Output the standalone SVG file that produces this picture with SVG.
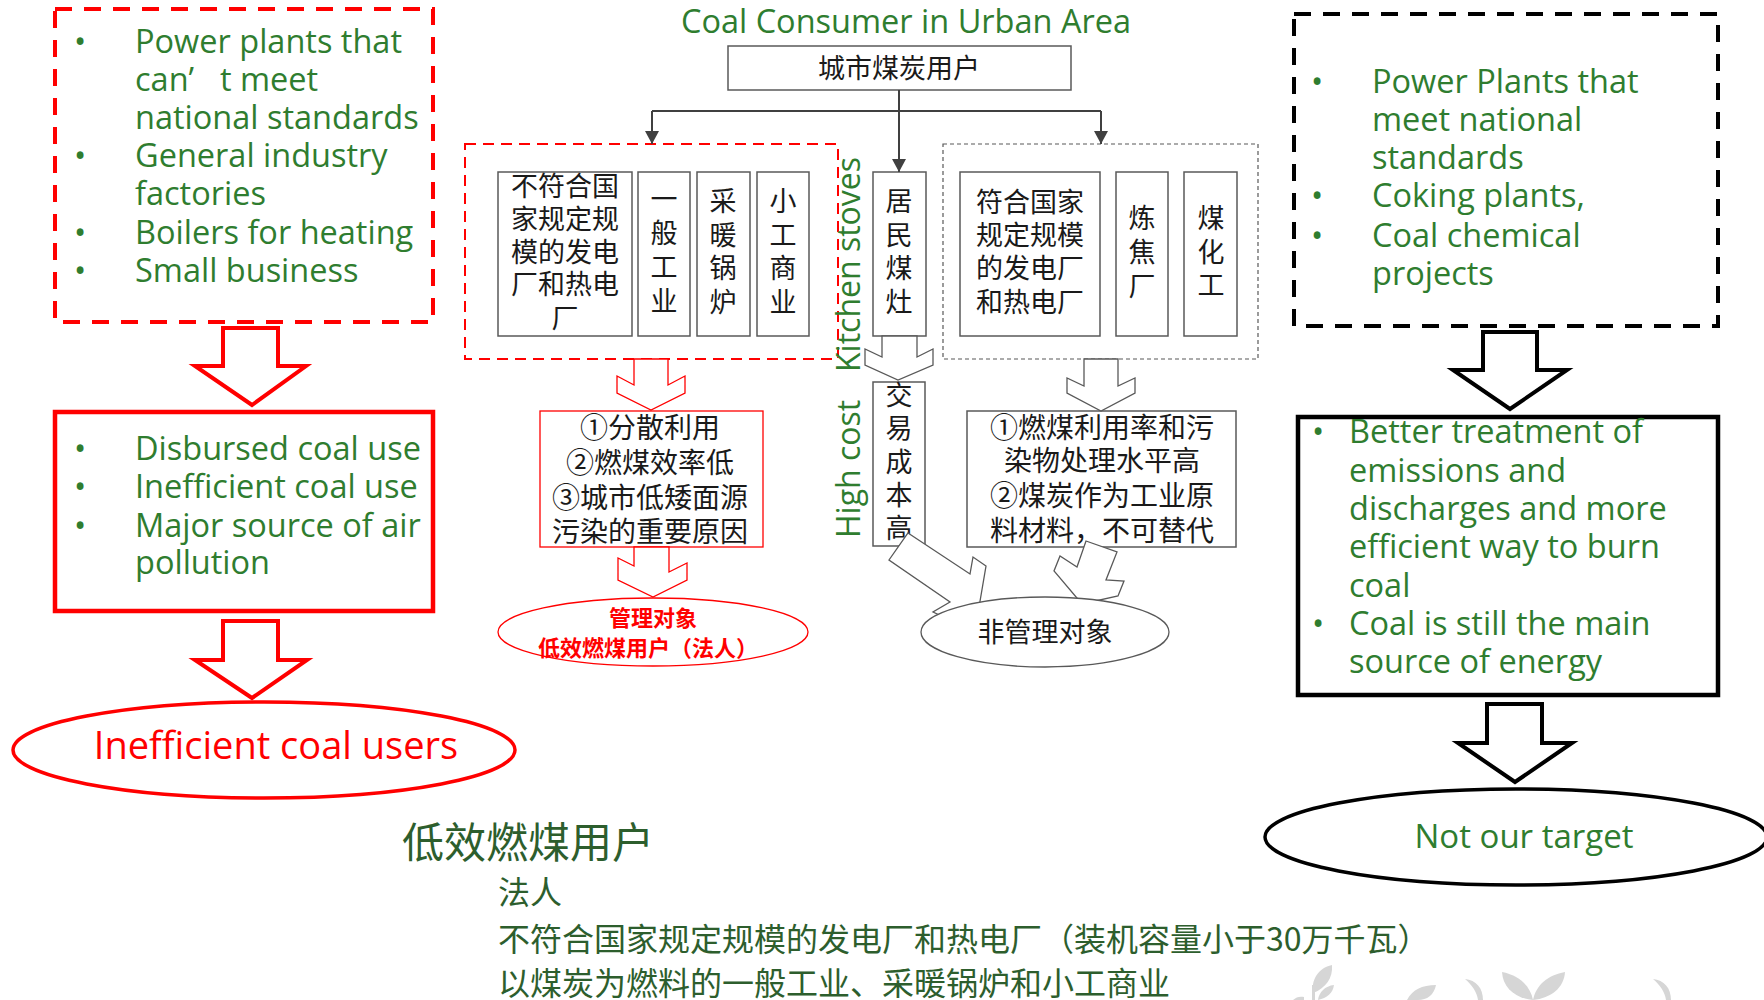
<svg xmlns="http://www.w3.org/2000/svg" width="1764" height="1000" viewBox="0 0 1764 1000">
<defs>
<style>
.en{font-family:"Open Sans","Noto Sans",sans-serif;fill:#2F7D2F}
.b33{font-size:32.5px}
.zh{font-family:"Noto Sans CJK SC",sans-serif;fill:#1a1a1a;font-size:27px;text-anchor:middle}
.zh28{font-size:28px}
.box{fill:#fff;stroke:#595959;stroke-width:1.5}
.conn{fill:none;stroke:#404040;stroke-width:2}
.garrow{fill:#fff;stroke:#595959;stroke-width:1.3;stroke-linejoin:miter}
.rarrow{fill:#fff;stroke:#ff0000;stroke-width:1.3}
.bigr{fill:#fff;stroke:#ff0000;stroke-width:4}
.bigk{fill:#fff;stroke:#000;stroke-width:4}
.leaf{fill:#d6d6d6}
.bot{font-family:"Noto Sans CJK SC",sans-serif;fill:#2D5E2D}
</style>
<marker id="ah" markerUnits="userSpaceOnUse" markerWidth="14" markerHeight="14" refX="13" refY="7" orient="auto" viewBox="0 0 14 14"><path d="M0,0 L13,7 L0,14 z" fill="#404040"/></marker>
</defs>
<rect width="1764" height="1000" fill="#fff"/>

<!-- decorative leaves -->
<g id="leaves">
<path class="leaf" d="M1313,993 C1311,980 1318,968 1332,965 C1333,978 1326,988 1313,993 Z"/>
<path class="leaf" d="M1318,1000 C1319,992 1325,986 1334,985 C1333,993 1327,998 1318,1000 Z"/>
<rect class="leaf" x="1312" y="985" width="3" height="15"/>
<path class="leaf" d="M1293,1000 C1296,997 1300,996 1304,997 L1304,1000 Z"/>
<path class="leaf" d="M1407,1000 C1412,990 1422,985 1436,985 C1434,995 1427,1000 1418,1000 Z"/>
<path class="leaf" d="M1465,979 C1476,980 1483,988 1483,1000 L1478,1000 C1477,992 1472,985 1465,979 Z"/>
<path class="leaf" d="M1533,1000 C1530,985 1518,975 1502,972 C1503,988 1515,998 1533,1000 Z"/>
<path class="leaf" d="M1533,1000 C1536,985 1548,975 1565,972 C1564,988 1551,998 1533,1000 Z"/>
<path class="leaf" d="M1653,979 C1664,980 1671,988 1671,1000 L1666,1000 C1665,992 1660,985 1653,979 Z"/>
</g>

<!-- Left column -->
<g id="left-top">
<rect x="55" y="9" width="378" height="313" fill="none" stroke="#ff0000" stroke-width="4" stroke-dasharray="17 12"/>
<g class="en b33">
<text x="80" y="53" text-anchor="middle">•</text>
<text x="80" y="167" text-anchor="middle">•</text>
<text x="80" y="244" text-anchor="middle">•</text>
<text x="80" y="282" text-anchor="middle">•</text>
<text x="135" y="53">Power plants that</text>
<text x="135" y="91">can’ <tspan x="220">t meet</tspan></text>
<text x="135" y="129">national standards</text>
<text x="135" y="167">General industry</text>
<text x="135" y="205">factories</text>
<text x="135" y="244">Boilers for heating</text>
<text x="135" y="282">Small business</text>
</g>
</g>

<g id="left-mid">
<rect x="55" y="412" width="378" height="199" fill="#fff" stroke="#ff0000" stroke-width="4.5"/>
<g class="en b33">
<text x="80" y="460" text-anchor="middle">•</text>
<text x="80" y="498" text-anchor="middle">•</text>
<text x="80" y="537" text-anchor="middle">•</text>
<text x="135" y="460">Disbursed coal use</text>
<text x="135" y="498">Inefficient coal use</text>
<text x="135" y="537">Major source of air</text>
<text x="135" y="574">pollution</text>
</g>
</g>

<g id="left-ellipse">
<ellipse cx="264" cy="750" rx="251" ry="48" fill="#fff" stroke="#ff0000" stroke-width="3.5"/>
<text x="276" y="759" text-anchor="middle" font-family="Open Sans, Noto Sans, sans-serif" font-size="38" fill="#ff0000">Inefficient coal users</text>
</g>

<!-- Right column -->
<g id="right-top">
<rect x="1294" y="14" width="424" height="312" fill="none" stroke="#000" stroke-width="4" stroke-dasharray="17 12"/>
<g class="en b33">
<text x="1317" y="93" text-anchor="middle">•</text>
<text x="1317" y="207" text-anchor="middle">•</text>
<text x="1317" y="247" text-anchor="middle">•</text>
<text x="1372" y="93">Power Plants that</text>
<text x="1372" y="131">meet national</text>
<text x="1372" y="169">standards</text>
<text x="1372" y="207">Coking plants,</text>
<text x="1372" y="247">Coal chemical</text>
<text x="1372" y="285">projects</text>
</g>
</g>

<g id="right-mid">
<rect x="1298" y="417" width="420" height="278" fill="#fff" stroke="#000" stroke-width="4.5"/>
<g class="en b33">
<text x="1318" y="443" text-anchor="middle">•</text>
<text x="1318" y="635" text-anchor="middle">•</text>
<text x="1349" y="443">Better treatment of</text>
<text x="1349" y="482">emissions and</text>
<text x="1349" y="520">discharges and more</text>
<text x="1349" y="558">efficient way to burn</text>
<text x="1349" y="597">coal</text>
<text x="1349" y="635">Coal is still the main</text>
<text x="1349" y="673">source of energy</text>
</g>
</g>

<g id="right-ellipse">
<ellipse cx="1516" cy="837" rx="251" ry="48" fill="#fff" stroke="#000" stroke-width="3.5"/>
<text x="1524" y="848" text-anchor="middle" font-family="Open Sans, Noto Sans, sans-serif" font-size="33" fill="#2F7D2F">Not our target</text>
</g>

<!-- Center -->
<g id="title">
<text x="906" y="33" text-anchor="middle" class="en" font-size="32.5">Coal Consumer in Urban Area</text>
</g>

<g id="urban-users">
<rect class="box" x="728" y="46" width="343" height="44"/>
<text class="zh" x="899" y="78">城市煤炭用户</text>
</g>

<g id="group-nonstandard">
<rect x="465" y="144" width="373" height="215" fill="none" stroke="#ff0000" stroke-width="2" stroke-dasharray="11 7"/>
</g>

<g id="n-power">
<rect class="box" x="498" y="172" width="134" height="164"/>
<text class="zh" x="565" y="196">不符合国</text>
<text class="zh" x="565" y="229">家规定规</text>
<text class="zh" x="565" y="262">模的发电</text>
<text class="zh" x="565" y="294">厂和热电</text>
<text class="zh" x="565" y="328">厂</text>
</g>
<g id="n-industry">
<rect class="box" x="638" y="172" width="52" height="164"/>
<text class="zh" x="664" y="209">一</text>
<text class="zh" x="664" y="243">般</text>
<text class="zh" x="664" y="277">工</text>
<text class="zh" x="664" y="311">业</text>
</g>
<g id="n-boiler">
<rect class="box" x="697" y="172" width="53" height="164"/>
<text class="zh" x="723" y="211">采</text>
<text class="zh" x="723" y="245">暖</text>
<text class="zh" x="723" y="278">锅</text>
<text class="zh" x="723" y="312">炉</text>
</g>
<g id="n-business">
<rect class="box" x="757" y="172" width="52" height="164"/>
<text class="zh" x="783" y="211">小</text>
<text class="zh" x="783" y="245">工</text>
<text class="zh" x="783" y="278">商</text>
<text class="zh" x="783" y="312">业</text>
</g>

<g id="n-stove">
<rect class="box" x="873" y="172" width="53" height="164"/>
<text class="zh" x="899" y="211">居</text>
<text class="zh" x="899" y="245">民</text>
<text class="zh" x="899" y="278">煤</text>
<text class="zh" x="899" y="312">灶</text>
</g>

<g id="group-standard">
<rect x="943" y="144" width="315" height="215" fill="none" stroke="#595959" stroke-width="1.2" stroke-dasharray="4 3"/>
</g>
<g id="s-power">
<rect class="box" x="960" y="172" width="140" height="164"/>
<text class="zh" x="1030" y="212">符合国家</text>
<text class="zh" x="1030" y="245">规定规模</text>
<text class="zh" x="1030" y="278">的发电厂</text>
<text class="zh" x="1030" y="312">和热电厂</text>
</g>
<g id="s-coking">
<rect class="box" x="1116" y="172" width="52" height="164"/>
<text class="zh" x="1142" y="228">炼</text>
<text class="zh" x="1142" y="262">焦</text>
<text class="zh" x="1142" y="296">厂</text>
</g>
<g id="s-chem">
<rect class="box" x="1184" y="172" width="53" height="164"/>
<text class="zh" x="1211" y="228">煤</text>
<text class="zh" x="1211" y="262">化</text>
<text class="zh" x="1211" y="295">工</text>
</g>

<g id="side-labels">
<text class="en" font-size="32" transform="translate(860,372) rotate(-90)">Kitchen stoves</text>
<text class="en" font-size="32" transform="translate(860,538) rotate(-90)">High cost</text>
</g>

<g id="reason-left">
<rect x="540" y="411" width="223" height="136" fill="#fff" stroke="#ff0000" stroke-width="1.3"/>
<text class="zh zh28" x="650" y="438">①分散利用</text>
<text class="zh zh28" x="650" y="473">②燃煤效率低</text>
<text class="zh zh28" x="650" y="508">③城市低矮面源</text>
<text class="zh zh28" x="650" y="542">污染的重要原因</text>
</g>

<g id="cost-box">
<rect class="box" x="873" y="382" width="52" height="164"/>
<text class="zh" x="899" y="405">交</text>
<text class="zh" x="899" y="438">易</text>
<text class="zh" x="899" y="472">成</text>
<text class="zh" x="899" y="505">本</text>
<text class="zh" x="899" y="538">高</text>
</g>

<g id="reason-right">
<rect class="box" x="967" y="411" width="269" height="136"/>
<text class="zh zh28" x="1102" y="438">①燃煤利用率和污</text>
<text class="zh zh28" x="1102" y="471">染物处理水平高</text>
<text class="zh zh28" x="1102" y="506">②煤炭作为工业原</text>
<text class="zh zh28" x="1102" y="541">料材料，不可替代</text>
</g>

<!-- connectors -->
<g id="connectors">
<path class="conn" d="M899,90 V111"/>
<path class="conn" d="M652,111 H1101"/>
<path class="conn" d="M652,111 V144" marker-end="url(#ah)"/>
<path class="conn" d="M1101,111 V144" marker-end="url(#ah)"/>
<path class="conn" d="M899,111 V172" marker-end="url(#ah)"/>
<polygon class="bigr" points="223,328 278,328 278,366 306,366 252,405 195,366 223,366"/>
<polygon class="bigr" points="223,621 278,621 278,660 307,660 252,698 195,660 223,660"/>
<polygon class="bigk" points="1483,332 1537,332 1537,370 1567,370 1510,409 1453,370 1483,370"/>
<polygon class="bigk" points="1487,704 1542,704 1542,743 1572,743 1515,782 1458,743 1487,743"/>
<polygon class="rarrow" points="634,359 634,385 617,376 617,393 651,410 685,393 685,376 668,385 668,359"/>
<polygon class="rarrow" points="634,547 634,566 618,558 618,580 653,597 687,580 687,563 669,572 669,547"/>
<polygon class="garrow" points="882,336 882,357 865,349 865,365 898,380 933,365 933,349 917,357 917,336"/>
<polygon class="garrow" points="1084,359 1084,386 1067,378 1067,393 1101,411 1135,393 1135,378 1118,386 1118,359"/>
<polygon class="garrow" points="908,533 970,574 973,557 986,566 978,613 946,618 933,612 950,602 889,560"/>
<polygon class="garrow" points="1086,541 1117,552 1106,580 1124,581 1118,596 1082,604 1054,571 1060,556 1077,567"/>
</g>

<g id="managed">
<ellipse cx="653" cy="632" rx="155" ry="34" fill="#fff" stroke="#ff0000" stroke-width="1.3"/>
<text x="653" y="626" text-anchor="middle" font-family="Noto Sans CJK SC, sans-serif" font-size="22" font-weight="bold" fill="#ff0000">管理对象</text>
<text x="648" y="656" text-anchor="middle" font-family="Noto Sans CJK SC, sans-serif" font-size="22" font-weight="bold" fill="#ff0000">低效燃煤用户（法人）</text>
</g>

<g id="unmanaged">
<ellipse cx="1045" cy="632" rx="124" ry="35" fill="#fff" stroke="#595959" stroke-width="1.3"/>
<text class="zh" x="1045" y="642">非管理对象</text>
</g>

<g id="bottom-text">
<text class="bot" x="402" y="858" font-size="42">低效燃煤用户</text>
<text class="bot" x="498" y="904" font-size="32">法人</text>
<text class="bot" x="498" y="951" font-size="32">不符合国家规定规模的发电厂和热电厂（装机容量小于30万千瓦）</text>
<text class="bot" x="498" y="995" font-size="32">以煤炭为燃料的一般工业、采暖锅炉和小工商业</text>
</g>
</svg>
